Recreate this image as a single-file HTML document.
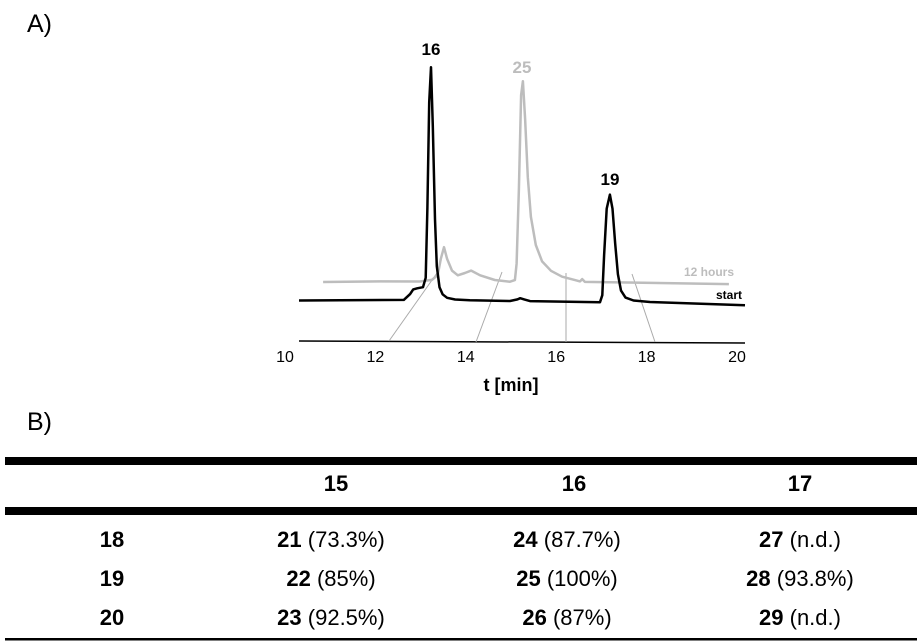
<!DOCTYPE html>
<html><head><meta charset="utf-8"><style>
html,body{margin:0;padding:0;background:#fff;}
svg{display:block;font-family:"Liberation Sans",sans-serif;}
</style></head><body>
<svg id="fig" width="920" height="644" viewBox="0 0 920 644">
<text x="27" y="32" font-size="25">A)</text>
<g id="chart"></g>
<text x="27" y="430" font-size="25">B)</text>
<g id="table">
<rect x="5" y="457" width="912" height="8" fill="#000"/>
<rect x="5" y="507" width="912" height="8" fill="#000"/>
<rect x="5" y="638" width="912" height="2.5" fill="#000"/>
<g font-size="22" text-anchor="middle">
<text x="336" y="491" font-weight="bold">15</text>
<text x="574" y="491" font-weight="bold">16</text>
<text x="800" y="491" font-weight="bold">17</text>
<text x="112" y="547" font-weight="bold">18</text>
<text x="112" y="586" font-weight="bold">19</text>
<text x="112" y="625" font-weight="bold">20</text>
<text x="331" y="547"><tspan font-weight="bold">21</tspan> (73.3%)</text>
<text x="331" y="586"><tspan font-weight="bold">22</tspan> (85%)</text>
<text x="331" y="625"><tspan font-weight="bold">23</tspan> (92.5%)</text>
<text x="567" y="547"><tspan font-weight="bold">24</tspan> (87.7%)</text>
<text x="567" y="586"><tspan font-weight="bold">25</tspan> (100%)</text>
<text x="567" y="625"><tspan font-weight="bold">26</tspan> (87%)</text>
<text x="800" y="547"><tspan font-weight="bold">27</tspan> (n.d.)</text>
<text x="800" y="586"><tspan font-weight="bold">28</tspan> (93.8%)</text>
<text x="800" y="625"><tspan font-weight="bold">29</tspan> (n.d.)</text>
</g></g>
</svg>
<script>
const tickLabels = ["10","12","14","16","18","20"];
const tickValues = [10,12,14,16,18,20];
const startTimes = [10,12.35,12.49,12.56,12.65,12.78,12.84,12.88,12.92,12.96,13.0,13.05,13.09,13.15,13.22,13.32,13.5,13.83,14.73,14.9,14.96,15.05,15.18,16.75,16.8,16.84,16.9,16.97,17.03,17.09,17.15,17.22,17.32,17.5,17.87,20];
const startValues = [0,0.5,3,5,5.5,6,10,40,85,100,75,35,15,6,3,1.5,0.8,0.5,0.3,1,1.5,1,0.3,0,3,20,40,46,40,25,12,5,2,0.8,0.2,-1];
const hoursTimes = [10.54,11.82,12.71,12.98,13.11,13.18,13.25,13.32,13.43,13.56,13.72,13.86,14.06,14.39,14.73,14.84,14.88,14.93,14.98,15.02,15.07,15.13,15.2,15.31,15.45,15.65,15.9,16.2,16.3,16.35,16.41,19.64];
const hoursValues = [0,0.3,0.3,1,3,10,15,10,5,3,4,5,3,1,0.3,1,8,40,80,86,70,45,28,16,9,5,2.5,1,0.5,1.5,0.3,-0.5];
const NS='http://www.w3.org/2000/svg';
const g=document.getElementById('chart');
const xPix=t=>299+(t-10)*44.6;
const yStart=(v,t)=>300.5+(t-10)*0.25-v*2.34;
const yHours=(v,t)=>282+(t-10.54)*0.1-v*2.34;
function mk(tag,attrs){const e=document.createElementNS(NS,tag);for(const k in attrs)e.setAttribute(k,attrs[k]);g.appendChild(e);return e;}
let ax=mk('line',{x1:299,y1:341,x2:745,y2:343,stroke:'#000','stroke-width':1.5});


const guideBase=[[389,341],[476,342],[566,342],[655,342]];
const guideTop=[[437,273],[502,272],[566,273],[632,274]];
guideBase.forEach((b,i)=>{
 const l=mk('line',{x1:b[0],y1:b[1],x2:guideTop[i][0],y2:guideTop[i][1],stroke:'#aaa','stroke-width':1});
 
 
});
tickValues.forEach((v,i)=>{
 const t=mk('text',{x:285+(v-10)*45.2,y:362,'font-size':16,'text-anchor':'middle'});
 t.textContent=tickLabels[i];
 
 
});
const xt=mk('text',{x:511,y:391,'font-size':18,'font-weight':'bold','text-anchor':'middle'});
xt.textContent='t [min]';


function path(ts,vs,yf){return ts.map((t,i)=>(i?'L':'M')+xPix(t).toFixed(1)+' '+yf(vs[i],t).toFixed(1)).join(' ');}
const pH=mk('path',{d:path(hoursTimes,hoursValues,yHours),fill:'none',stroke:'#bdbdbd','stroke-width':2.5,'stroke-linejoin':'round'});


const pS=mk('path',{d:path(startTimes,startValues,yStart),fill:'none',stroke:'#000','stroke-width':2.5,'stroke-linejoin':'round'});


function lab(txt,x,y,size,color,name,anchor){const t=mk('text',{x:x,y:y,'font-size':size,'font-weight':'bold',fill:color,'text-anchor':anchor||'middle'});t.textContent=txt;}
lab('16',431,55,17,'#000','peak-label-16');
lab('25',522,73,17,'#bdbdbd','peak-label-25');
lab('19',610,185,17,'#000','peak-label-19');
lab('12 hours',734,276,12,'#bdbdbd','series-label-12-hours','end');
lab('start',742,299,12,'#000','series-label-start','end');
</script>
</body></html>
